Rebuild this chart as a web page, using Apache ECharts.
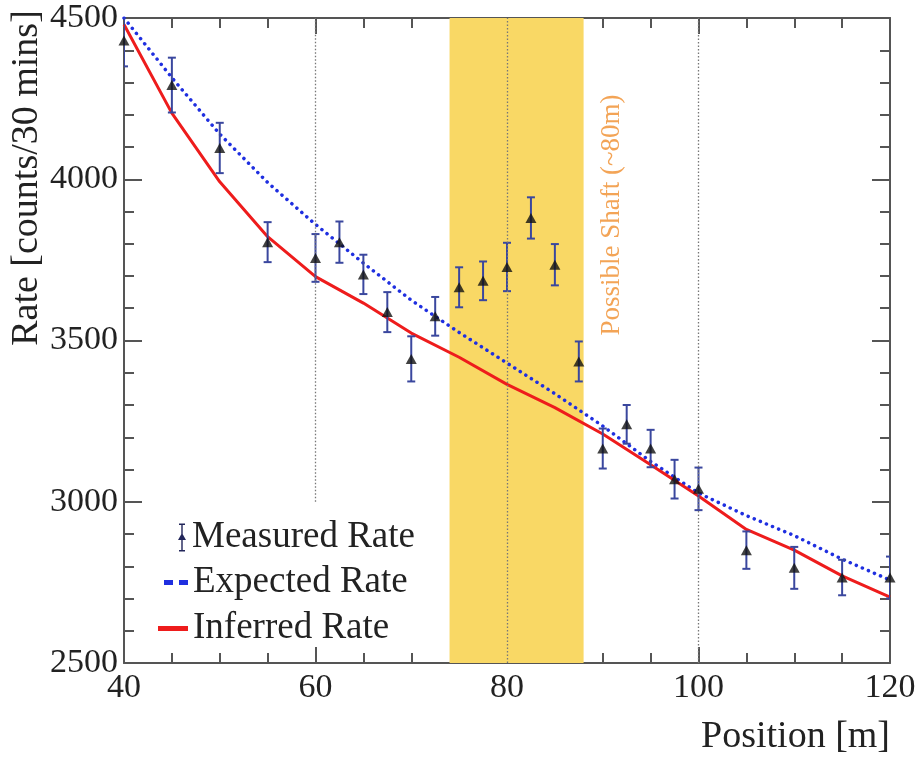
<!DOCTYPE html>
<html>
<head>
<meta charset="utf-8">
<script src="https://cdn.jsdelivr.net/npm/echarts@6/dist/echarts.min.js"></script>
<style>
  html, body { margin: 0; padding: 0; background: #fff; }
  #chart { width: 919px; height: 758px; }
</style>
</head>
<body>
<div id="chart"></div>
<script>
// measured points (position [m], rate, error)
const measuredPos = [40, 45, 50, 55, 60, 62.5, 65, 67.5, 70, 72.5, 75, 77.5, 80, 82.5, 85, 87.5, 90, 92.5, 95, 97.5, 100, 105, 110, 115, 120]
const measuredRate = [4430, 4292, 4097, 3805, 3756, 3805, 3705, 3588, 3443, 3575, 3665, 3685, 3728, 3880, 3735, 3435, 3165, 3240, 3165, 3070, 3040, 2850, 2795, 2765, 2765]
const measuredErr = [80, 85, 78, 62, 74, 64, 61, 62, 70, 60, 62, 60, 75, 64, 64, 62, 62, 60, 58, 60, 66, 58, 65, 55, 65]

// model curves
const curvePos = [40, 45, 50, 55, 60, 65, 70, 75, 80, 85, 90, 95, 100, 105, 110, 115, 120]
const expectedRate = [4500, 4315, 4140, 3990, 3860, 3740, 3625, 3525, 3430, 3335, 3235, 3125, 3027, 2957, 2895, 2822, 2757]
const inferredRate = [4480, 4205, 3992, 3822, 3698, 3616, 3523, 3448, 3364, 3292, 3210, 3115, 3018, 2914, 2850, 2770, 2704]

// shaded region and reference lines
const shaftBand = [74, 88]
const refLines = [[60, 3000, 4500], [80, 2500, 4500], [100, 2500, 4500]]

const xTicks = { min: 40, max: 120, interval: 20 }
const yTicks = { min: 2500, max: 4500, interval: 500 }

const serif = 'Liberation Serif'
const textColor = '#222'
const axisColor = '#555'

const chart = echarts.init(document.getElementById('chart'))

const frameAxis = (extra) => Object.assign({
  type: 'value',
  axisLine: { show: true, onZero: false, lineStyle: { color: axisColor, width: 2 } },
  splitLine: { show: false }
}, extra)

const legendText = { fontFamily: serif, fontSize: 37, color: textColor, lineHeight: 36 }

const option = {
  backgroundColor: '#fff',
  animation: false,
  grid: { left: 124, right: 29, top: 18, bottom: 95 },
  xAxis: [
    frameAxis({
      position: 'bottom',
      min: xTicks.min, max: xTicks.max, interval: xTicks.interval,
      axisTick: { inside: true, length: 16, lineStyle: { color: axisColor, width: 2 } },
      minorTick: { show: true, splitNumber: 4, length: 10, lineStyle: { color: axisColor, width: 2 } },
      axisLabel: { fontFamily: serif, fontSize: 34, color: textColor, margin: 8 }
    }),
    frameAxis({
      position: 'top',
      min: xTicks.min, max: xTicks.max, interval: xTicks.interval,
      axisTick: { inside: true, length: 16, lineStyle: { color: axisColor, width: 2 } },
      minorTick: { show: true, splitNumber: 4, length: 10, lineStyle: { color: axisColor, width: 2 } },
      axisLabel: { show: false }
    })
  ],
  yAxis: [
    frameAxis({
      position: 'left',
      min: yTicks.min, max: yTicks.max, interval: yTicks.interval,
      axisTick: { inside: true, length: 18, lineStyle: { color: axisColor, width: 2 } },
      minorTick: { show: true, splitNumber: 5, length: 10, lineStyle: { color: axisColor, width: 2 } },
      axisLabel: { fontFamily: serif, fontSize: 34, color: textColor, margin: 6, formatter: (v) => String(v) }
    }),
    frameAxis({
      position: 'right',
      min: yTicks.min, max: yTicks.max, interval: yTicks.interval,
      axisTick: { inside: true, length: 18, lineStyle: { color: axisColor, width: 2 } },
      minorTick: { show: true, splitNumber: 5, length: 10, lineStyle: { color: axisColor, width: 2 } },
      axisLabel: { show: false }
    })
  ],
  legend: [
    {
      left: 178, top: 519, padding: 0, itemWidth: 10, itemHeight: 28,
      textStyle: legendText,
      data: [{
        name: 'Measured Rate',
        icon: 'path://M4,0h6v1.6h-6z M6.3,0h1.4v28h-1.4z M4,26.4h6v1.6h-6z M7,9.5L11,16.5L3,16.5Z',
        itemStyle: { color: '#22265a' }
      }]
    },
    {
      left: 164, top: 564, padding: 0, itemWidth: 24, itemHeight: 5,
      textStyle: legendText,
      data: [{
        name: 'Expected Rate',
        icon: 'path://M0,0h9v5h-9z M15,0h9v5h-9z',
        itemStyle: { color: '#1f2fe0' }
      }]
    },
    {
      left: 158, top: 610, padding: 0, itemWidth: 30, itemHeight: 5,
      textStyle: legendText,
      data: [{ name: 'Inferred Rate', icon: 'rect', itemStyle: { color: '#ee1c1c' } }]
    }
  ],
  series: [
    {
      name: 'band',
      type: 'line',
      data: [],
      z: 1,
      markArea: {
        silent: true,
        itemStyle: { color: '#f9d865' },
        data: [[{ xAxis: shaftBand[0], yAxis: yTicks.min }, { xAxis: shaftBand[1], yAxis: yTicks.max }]]
      }
    },
    {
      name: 'refs',
      type: 'line',
      data: [],
      z: 2,
      markLine: {
        silent: true,
        symbol: 'none',
        label: { show: false },
        lineStyle: { color: '#777', type: [1.5, 2], width: 1.3 },
        data: refLines.map(([x, y0, y1]) => [{ coord: [x, y0] }, { coord: [x, y1] }])
      }
    },
    {
      name: 'Expected Rate',
      type: 'line',
      z: 3,
      symbol: 'none',
      data: curvePos.map((x, i) => [x, expectedRate[i]]),
      lineStyle: { color: '#1f2fe0', width: 3.5, type: [0.1, 6.5], cap: 'round' },
      itemStyle: { color: '#1f2fe0' }
    },
    {
      name: 'Inferred Rate',
      type: 'line',
      z: 3,
      symbol: 'none',
      data: curvePos.map((x, i) => [x, inferredRate[i]]),
      lineStyle: { color: '#ee1c1c', width: 3 },
      itemStyle: { color: '#ee1c1c' }
    },
    {
      name: 'Measured Rate',
      type: 'custom',
      z: 4,
      clip: true,
      data: measuredPos.map((x, i) => [x, measuredRate[i], measuredErr[i]]),
      renderItem: (params, api) => {
        const x = api.value(0)
        const y = api.value(1)
        const e = api.value(2)
        const top = api.coord([x, y + e])
        const bot = api.coord([x, y - e])
        const style = { stroke: '#3a479e', lineWidth: 2 }
        const half = 4
        return {
          type: 'group',
          children: [
            { type: 'line', shape: { x1: top[0], y1: top[1], x2: bot[0], y2: bot[1] }, style },
            { type: 'line', shape: { x1: top[0] - half, y1: top[1], x2: top[0] + half, y2: top[1] }, style },
            { type: 'line', shape: { x1: bot[0] - half, y1: bot[1], x2: bot[0] + half, y2: bot[1] }, style }
          ]
        }
      }
    },
    {
      name: 'Measured Rate',
      type: 'scatter',
      z: 5,
      symbol: 'triangle',
      symbolSize: [11, 10],
      itemStyle: { color: '#111' },
      data: measuredPos.map((x, i) => [x, measuredRate[i]])
    }
  ],
  graphic: [
    {
      type: 'text', x: 27, y: 178, rotation: Math.PI / 2,
      style: { text: 'Rate [counts/30 mins]', font: '38px "Liberation Serif"', fill: textColor, textAlign: 'center', textVerticalAlign: 'middle' }
    },
    {
      type: 'text', x: 890, y: 737,
      style: { text: 'Position [m]', font: '38px "Liberation Serif"', fill: textColor, textAlign: 'right', textVerticalAlign: 'middle' }
    },
    {
      type: 'text', x: 612, y: 215, rotation: Math.PI / 2,
      style: { text: 'Possible Shaft (~80m)', font: '27px "Liberation Serif"', fill: '#f3a456', textAlign: 'center', textVerticalAlign: 'middle' }
    }
  ]
}

chart.setOption(option)
</script>
</body>
</html>
